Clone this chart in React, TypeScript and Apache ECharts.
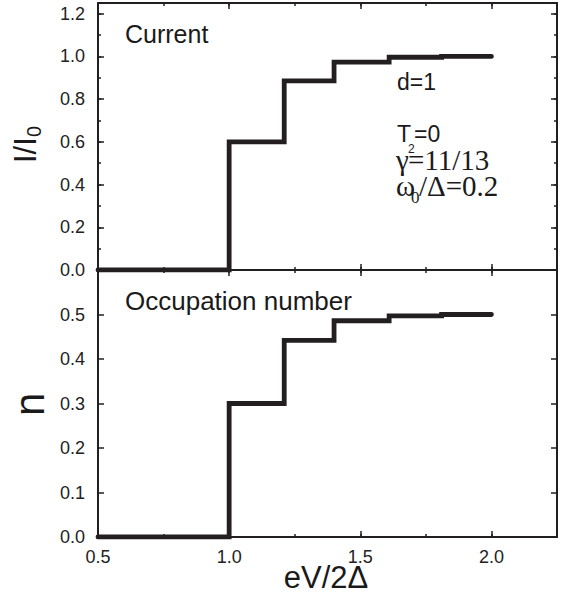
import React, { useEffect, useRef } from "react";
import * as echarts from "echarts";

// step edges (eV/2Δ) and plateau values
const stepX = [0.5, 1.0, 1.21, 1.40, 1.61, 1.81, 2.0];
const currentY = [0, 0.6, 0.885, 0.973, 0.996, 1.0, 1.0];
const occupationY = [0, 0.3, 0.442, 0.486, 0.497, 0.5, 0.5];

const xTicks = [0.5, 1.0, 1.5, 2.0];
const topYTicks = [0.0, 0.2, 0.4, 0.6, 0.8, 1.0, 1.2];
const botYTicks = [0.0, 0.1, 0.2, 0.3, 0.4, 0.5];

const INK = "#231f20";
const SANS = "'Liberation Sans', Arial, Helvetica, sans-serif";
const SERIF = "'Liberation Serif', 'Times New Roman', serif";

export default function App() {
  const ref = useRef<HTMLDivElement>(null);
  useEffect(() => {
    if (!ref.current) return;
    const chart = echarts.init(ref.current, null, { renderer: "svg" });

    const L = 98, W = 459;
    const grids = [
      { left: L, top: 3, width: W, height: 267 },
      { left: L, top: 270, width: W, height: 267 },
    ];

    const xBase = (gridIndex: number, position: string, minor: boolean, labels: boolean) => ({
      type: "value",
      gridIndex,
      position,
      min: 0.5,
      max: 2.25,
      interval: minor ? 0.25 : 0.5,
      axisLine: { show: !minor, onZero: false, lineStyle: { color: INK, width: 2 } },
      axisTick: { show: true, inside: true, length: minor ? 3 : 6, lineStyle: { color: INK, width: 1.5 } },
      axisLabel: {
        show: labels,
        showMaxLabel: false,
        margin: 11,
        color: "#222",
        fontSize: 18,
        fontFamily: SANS,
        formatter: (v: number) => (xTicks.some((t) => Math.abs(t - v) < 1e-9) ? v.toFixed(1) : ""),
      },
      splitLine: { show: false },
    });

    const yBase = (
      gridIndex: number,
      position: string,
      max: number,
      interval: number,
      minor: boolean,
      labels: boolean,
      ticks: number[]
    ) => ({
      type: "value",
      gridIndex,
      position,
      min: 0,
      max,
      interval,
      axisLine: { show: !minor, onZero: false, lineStyle: { color: INK, width: 2 } },
      axisTick: { show: true, inside: true, length: minor ? 3 : 6, lineStyle: { color: INK, width: 1.5 } },
      axisLabel: {
        show: labels,
        showMaxLabel: false,
        margin: 13,
        color: "#222",
        fontSize: 18,
        fontFamily: SANS,
        formatter: (v: number) => (ticks.some((t) => Math.abs(t - v) < 1e-9) ? v.toFixed(1) : ""),
      },
      splitLine: { show: false },
    });

    const xAxis = [
      xBase(0, "bottom", false, false),
      xBase(0, "bottom", true, false),
      xBase(0, "top", false, false),
      xBase(0, "top", true, false),
      xBase(1, "bottom", false, true),
      xBase(1, "bottom", true, false),
      xBase(1, "top", false, false),
      xBase(1, "top", true, false),
    ];
    const yAxis = [
      yBase(0, "left", 1.25, 0.2, false, true, topYTicks),
      yBase(0, "left", 1.25, 0.1, true, false, topYTicks),
      yBase(0, "right", 1.25, 0.2, false, false, topYTicks),
      yBase(0, "right", 1.25, 0.1, true, false, topYTicks),
      yBase(1, "left", 0.6, 0.1, false, true, botYTicks),
      yBase(1, "right", 0.6, 0.1, false, false, botYTicks),
    ];

    const lineStyle = { color: INK, width: 4.8, cap: "round", join: "miter" };

    const txt = (text: string, x: number, y: number, size: number, family = SANS, align = "left") => ({
      type: "text",
      x,
      y,
      style: {
        text,
        font: `${size}px ${family}`,
        fill: "#1a1a1a",
        textAlign: align,
        textVerticalAlign: "middle",
      },
    });

    chart.setOption({
      animation: false,
      backgroundColor: "#ffffff",
      grid: grids,
      xAxis,
      yAxis,
      series: [
        {
          type: "line",
          xAxisIndex: 0,
          yAxisIndex: 0,
          step: "end",
          showSymbol: false,
          data: stepX.map((x, i) => [x, currentY[i]]),
          lineStyle,
        },
        {
          type: "line",
          xAxisIndex: 4,
          yAxisIndex: 4,
          step: "end",
          showSymbol: false,
          data: stepX.map((x, i) => [x, occupationY[i]]),
          lineStyle,
        },
      ],
      graphic: [
        txt("Current", 125, 34, 25),
        txt("Occupation number", 125, 301, 26),
        txt("d=1", 397, 82, 23),
        txt("T", 397, 134, 23),
        txt("2", 408, 149, 12),
        txt("=0", 414, 134, 23),
        txt("γ", 396, 160, 29, SERIF),
        txt("=11/13", 408, 160, 29, SERIF),
        txt("ω", 396, 186, 29, SERIF),
        txt("0", 411, 197, 17, SERIF),
        txt("/Δ=0.2", 419, 186, 29, SERIF),
        txt("eV/2Δ", 326, 577, 31, SANS, "center"),
        {
          type: "group",
          x: 25,
          y: 163,
          rotation: Math.PI / 2,
          children: [
            txt("I/I", 0, 0, 31),
            txt("0", 26, 9, 20),
          ],
        },
        {
          type: "group",
          x: 29,
          y: 416,
          rotation: Math.PI / 2,
          children: [txt("n", 0, 0, 42)],
        },
      ],
    });
    return () => chart.dispose();
  }, []);
  return (
    <div
      ref={ref}
      style={{ position: "absolute", left: 0, top: 0, width: 566, height: 595, background: "#fff" }}
    />
  );
}
